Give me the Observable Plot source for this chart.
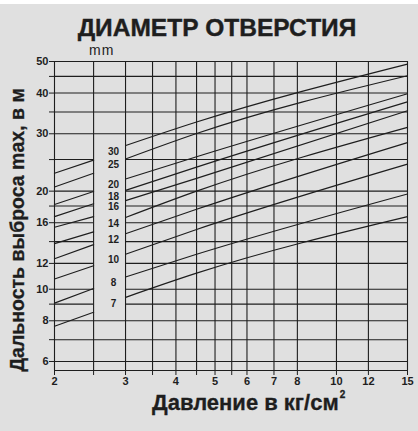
<!DOCTYPE html>
<html><head><meta charset="utf-8">
<script src="https://cdn.jsdelivr.net/npm/d3@7"></script>
<script src="https://cdn.jsdelivr.net/npm/@observablehq/plot@0.6"></script>
<style>
body{margin:0;background:#fff;}
#wrap{position:relative;width:418px;height:427px;margin-top:4px;background:#e0e0e0;font-family:"Liberation Sans",Arial,sans-serif;color:#1e1e1e;overflow:hidden}
#title{position:absolute;left:0;width:434px;top:12px;text-align:center;font-weight:bold;font-size:24.5px;line-height:1;white-space:nowrap;-webkit-text-stroke:0.4px #1e1e1e}
#mm{position:absolute;left:89px;top:39px;font-size:14px;letter-spacing:1px;line-height:1}
#ylab{position:absolute;left:18px;top:226px;transform:translate(-50%,-50%) rotate(-90deg);font-weight:bold;font-size:19.5px;line-height:1;white-space:nowrap;-webkit-text-stroke:0.3px #1e1e1e}
#xlab{position:absolute;left:152px;top:388px;font-weight:bold;font-size:22px;line-height:1;white-space:nowrap;-webkit-text-stroke:0.3px #1e1e1e}
#xlab sup{font-size:10px;vertical-align:top;position:relative;top:-2px;margin-left:1px}
#chart{position:absolute;left:0;top:0}
</style></head>
<body>
<div id="wrap">
  <div id="chart"></div>
  <div id="title">ДИАМЕТР ОТВЕРСТИЯ</div>
  <div id="mm">mm</div>
  <div id="ylab">Дальность выброса max, в м</div>
  <div id="xlab">Давление в кг/см<sup>2</sup></div>
</div>
<script>
// Nozzle diameters (mm)
const diameters = [30, 25, 20, 18, 16, 14, 12, 10, 8, 7];
// Throw distance (m) read at pressures 2, 2.5 (left segment) and 3, 4.5, 15 (right segment)
const at2   = [22.7, 20.6, 18.2, 16.7, 15.5, 13.8, 12.4, 10.75, 9.06, 7.7];
const at2_5 = [24.9, 22.7, 19.95, 18.3, 16.7, 15.0, 13.7, 11.8, 10.05, 8.5];
const at3   = [27.6, 25.1, 21.8, 20.1, 18.7, 16.6, 14.8, 12.8, 10.9, 9.44];
const at4_5 = [32.6, 30.05, 25.5, 23.7, 21.9, 20.0, 17.6, 15.25, 12.8, 11.2];
const at15  = [49.1, 45.2, 39.8, 37.6, 35.3, 31.4, 28.2, 24.2, 19.6, 16.7];

const xGrid = [2, 2.5, 3, 3.5, 4, 4.5, 5, 5.5, 6, 7, 8, 10, 12, 15];
const xTickLabels = [2, 3, 4, 5, 6, 7, 8, 10, 12, 15];
const yGrid = [6, 7, 8, 9, 10, 12, 14, 16, 18, 20, 25, 30, 35, 40, 45, 50];
const yTickLabels = [6, 8, 10, 12, 16, 20, 30, 40, 50];
const yGridBroken = [25, 20, 18, 16, 14, 12, 10, 9]; // interrupted by the label column

const xDomain = [2, 15];
const yDomain = [5.63, 50];

const rows = [];
diameters.forEach((d, i) => {
  rows.push({d, seg: "L", p: 2, v: at2[i]}, {d, seg: "L", p: 2.5, v: at2_5[i]});
  rows.push({d, seg: "R", p: 3, v: at3[i]}, {d, seg: "R", p: 4.5, v: at4_5[i]}, {d, seg: "R", p: 15, v: at15[i]});
});

const fullY = yGrid.filter(v => !yGridBroken.includes(v));
const brokenRows = yGridBroken.flatMap(v => [{v, a: xGrid[0], b: xGrid[1]}, {v, a: xGrid[2], b: xGrid[xGrid.length - 1]}]);

const ink = "#1e1e1e";
const chart = Plot.plot({
  width: 418, height: 427,
  marginLeft: 54, marginRight: 11, marginTop: 57, marginBottom: 61,
  style: {background: "transparent", fontFamily: "'Liberation Sans', Arial, sans-serif", color: ink, overflow: "visible"},
  x: {type: "log", domain: xDomain},
  y: {type: "log", domain: yDomain},
  marks: [
    Plot.ruleX(xGrid, {stroke: ink, strokeWidth: 1.1}),
    Plot.ruleY(fullY, {stroke: ink, strokeWidth: 1.1}),
    Plot.ruleY(brokenRows, {y: "v", x1: "a", x2: "b", stroke: ink, strokeWidth: 1.1}),
    Plot.ruleY([yDomain[0]], {stroke: ink, strokeWidth: 1.1}),
    Plot.axisX({ticks: xGrid, tickFormat: d => xTickLabels.includes(d) ? String(d) : "", tickSize: 5, tickPadding: 2, label: null, fontSize: 11, fontWeight: "bold", stroke: ink}),
    Plot.axisY({ticks: yGrid, tickFormat: d => yTickLabels.includes(d) ? String(d) : "", tickSize: 5, tickPadding: 1, label: null, fontSize: 11, fontWeight: "bold", stroke: ink}),
    Plot.line(rows, {x: "p", y: "v", z: r => r.d + r.seg, stroke: ink, strokeWidth: 1.2, curve: "monotone-x"}),
    Plot.text(diameters, {x: () => 2.8, y: (d, i) => at3[i], text: d => String(d), dy: 6, fontSize: 10, fontWeight: "bold", fill: ink})
  ]
});
document.getElementById("chart").appendChild(chart);
</script>
</body></html>
